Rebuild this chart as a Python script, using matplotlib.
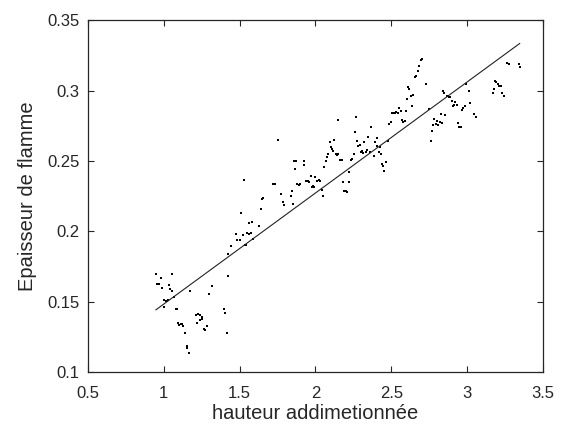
import numpy as np
import matplotlib
matplotlib.use('Agg')
import matplotlib.pyplot as plt

# measured points (hauteur adimensionnée, epaisseur de flamme)
x = [0.949, 0.958, 0.970, 0.980, 0.992, 1.004, 1.001, 1.013, 1.027, 1.037,
     1.044, 1.054, 1.058, 1.068, 1.080, 1.090, 1.094, 1.101, 1.111, 1.121,
     1.130, 1.142, 1.152, 1.156, 1.166, 1.171, 1.211, 1.218, 1.228, 1.237,
     1.242, 1.252, 1.254, 1.266, 1.273, 1.283, 1.297, 1.319, 1.395, 1.407,
     1.419, 1.426, 1.421, 1.445, 1.474, 1.483, 1.502, 1.510, 1.524, 1.538,
     1.543, 1.552, 1.560, 1.564, 1.574, 1.579, 1.588, 1.526, 1.631, 1.641,
     1.648, 1.654, 1.720, 1.732, 1.755, 1.774, 1.786, 1.794, 1.837, 1.844,
     1.851, 1.860, 1.868, 1.872, 1.879, 1.889, 1.899, 1.922, 1.927, 1.937,
     1.949, 1.958, 1.970, 1.975, 1.984, 1.992, 1.999, 2.008, 2.023, 2.032,
     2.042, 2.047, 2.058, 2.068, 2.075, 2.085, 2.094, 2.099, 2.109, 2.116,
     2.123, 2.132, 2.140, 2.149, 2.147, 2.163, 2.173, 2.180, 2.190, 2.199,
     2.206, 2.218, 2.223, 2.233, 2.242, 2.254, 2.261, 2.266, 2.271, 2.283,
     2.292, 2.302, 2.309, 2.314, 2.321, 2.331, 2.338, 2.347, 2.357, 2.366,
     2.385, 2.393, 2.402, 2.407, 2.416, 2.426, 2.431, 2.438, 2.443, 2.452,
     2.462, 2.479, 2.486, 2.495, 2.505, 2.514, 2.524, 2.533, 2.543, 2.550,
     2.560, 2.569, 2.579, 2.588, 2.598, 2.605, 2.610, 2.619, 2.631, 2.638,
     2.643, 2.653, 2.663, 2.672, 2.681, 2.693, 2.703, 2.731, 2.746, 2.758,
     2.767, 2.775, 2.782, 2.791, 2.801, 2.810, 2.820, 2.825, 2.834, 2.839,
     2.853, 2.848, 2.863, 2.870, 2.880, 2.889, 2.899, 2.908, 2.915, 2.920,
     2.930, 2.939, 2.946, 2.956, 2.963, 2.973, 2.982, 2.994, 3.011, 3.020,
     3.042, 3.054, 3.168, 3.178, 3.185, 3.192, 3.200, 3.209, 3.221, 3.230,
     3.240, 3.264, 3.273, 3.340, 3.345]
y = [0.1698, 0.1624, 0.1622, 0.1669, 0.1598, 0.1513, 0.1461, 0.1501, 0.1509, 0.1620,
     0.1589, 0.1698, 0.1575, 0.1532, 0.1447, 0.1447, 0.1348, 0.1331, 0.1343, 0.1338,
     0.1324, 0.1277, 0.1184, 0.1173, 0.1137, 0.1572, 0.1402, 0.1348, 0.1409, 0.1405,
     0.1371, 0.1390, 0.1374, 0.1307, 0.1296, 0.1326, 0.1556, 0.1613, 0.1445, 0.1419,
     0.1274, 0.1684, 0.1835, 0.1894, 0.1977, 0.1941, 0.1941, 0.2128, 0.1970, 0.1901,
     0.1899, 0.1986, 0.1982, 0.2057, 0.1986, 0.2067, 0.1946, 0.2365, 0.2034, 0.2159,
     0.2228, 0.2237, 0.2336, 0.2336, 0.2651, 0.2265, 0.2206, 0.2190, 0.2254, 0.2289,
     0.2194, 0.2502, 0.2443, 0.2502, 0.2336, 0.2332, 0.2336, 0.2502, 0.2474, 0.2355,
     0.2360, 0.2351, 0.2391, 0.2313, 0.2325, 0.2313, 0.2384, 0.2360, 0.2365, 0.2355,
     0.2296, 0.2249, 0.2459, 0.2502, 0.2526, 0.2549, 0.2634, 0.2597, 0.2587, 0.2568,
     0.2649, 0.2549, 0.2544, 0.2549, 0.2790, 0.2507, 0.2507, 0.2348, 0.2284, 0.2289,
     0.2282, 0.2348, 0.2419, 0.2509, 0.2516, 0.2549, 0.2703, 0.2809, 0.2639, 0.2604,
     0.2613, 0.2566, 0.2568, 0.2556, 0.2632, 0.2566, 0.2578, 0.2667, 0.2561, 0.2738,
     0.2533, 0.2634, 0.2660, 0.2604, 0.2561, 0.2599, 0.2549, 0.2478, 0.2466, 0.2431,
     0.2495, 0.2644, 0.2762, 0.2774, 0.2840, 0.2843, 0.2843, 0.2845, 0.2840, 0.2876,
     0.2857, 0.2790, 0.2774, 0.2786, 0.2857, 0.2939, 0.3022, 0.3010, 0.2963, 0.2890,
     0.2968, 0.3093, 0.3105, 0.3136, 0.3176, 0.3216, 0.3223, 0.3046, 0.2868, 0.2644,
     0.2715, 0.2757, 0.2798, 0.2762, 0.2781, 0.2755, 0.2774, 0.2833, 0.2772, 0.2999,
     0.2829, 0.2983, 0.2963, 0.2959, 0.2952, 0.2952, 0.2928, 0.2890, 0.2897, 0.2916,
     0.2897, 0.2769, 0.2738, 0.2738, 0.2864, 0.2876, 0.2893, 0.3046, 0.2999, 0.2914,
     0.2833, 0.2809, 0.2983, 0.3010, 0.3070, 0.3058, 0.3046, 0.3029, 0.3034, 0.2981,
     0.2963, 0.3195, 0.3188, 0.3188, 0.3165]

# linear fit drawn over the data range
slope = 0.0790
intercept = 0.0692

plt.rcParams['font.family'] = ['Liberation Sans', 'DejaVu Sans']

fig = plt.figure(figsize=(5.7, 4.3), dpi=100)
ax = fig.add_axes([0.154, 0.135, 0.799, 0.818])

ax.plot(x, y, 's', color='black', markersize=2.1, markeredgewidth=0)
xf = np.array([min(x), max(x)])
ax.plot(xf, slope * xf + intercept, color='#222222', linewidth=0.8)

ax.set_xlim(0.5, 3.5)
ax.set_ylim(0.1, 0.35)
ax.set_xticks([0.5, 1, 1.5, 2, 2.5, 3, 3.5])
ax.set_xticklabels(['0.5', '1', '1.5', '2', '2.5', '3', '3.5'])
ax.set_yticks([0.1, 0.15, 0.2, 0.25, 0.3, 0.35])
ax.set_yticklabels(['0.1', '0.15', '0.2', '0.25', '0.3', '0.35'])

ax.tick_params(direction='in', length=4, width=0.8, top=True, right=True,
               labelsize=12, colors='#262626')
ax.tick_params(axis='x', pad=10)
ax.tick_params(axis='y', pad=6)
for s in ax.spines.values():
    s.set_color('#262626')
    s.set_linewidth(0.9)

ax.set_xlabel('hauteur addimetionnée', fontsize=14.5, color='#262626', labelpad=2)
ax.set_ylabel('Epaisseur de flamme', fontsize=14.5, color='#262626', labelpad=7)

fig.savefig('out.png', dpi=100)
